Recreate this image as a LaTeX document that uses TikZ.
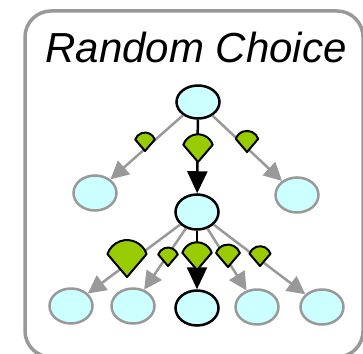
\documentclass[tikz,border=0pt]{standalone}
\usepackage{fontspec}
\setmainfont{Liberation Sans}
\usetikzlibrary{arrows.meta,shapes.geometric}
\definecolor{nodefill}{HTML}{CCFFFF}
\definecolor{edgegray}{HTML}{999999}
\definecolor{probgreen}{HTML}{99CC00}
\begin{document}
\begin{tikzpicture}[x=1pt,y=1pt,
  state/.style={ellipse, draw=edgegray, fill=nodefill, line width=2.5pt,
    minimum width=43pt, minimum height=35pt, inner sep=0pt},
  chosen/.style={state, draw=black},
  option/.style={draw=edgegray, line width=2.5pt, -{Triangle[length=18pt,width=18pt]}},
  taken/.style={draw=black, line width=2.5pt, -{Triangle[length=22pt,width=20pt]}},
  pics/prob/.style={code={
    \filldraw[fill=probgreen, draw=black, line width=2pt, line join=round]
      (0,0) -- (0.7*#1, 0.82*#1)
      arc[start angle=19, end angle=161, radius={0.74*#1pt}] -- cycle;}}
]
\clip (0,0) rectangle (363,-353);

% outer frame
\draw[edgegray, line width=3.5pt, rounded corners=26pt] (25,-11) rectangle (363,-357);

% title
\node[font=\itshape\fontsize{42}{42}\selectfont, anchor=base, inner sep=0pt] (title) at (196,-62) {Random Choice};

% states
\node[chosen, minimum height=33pt] (root) at (198,-102) {};
\node[state] (a1) at (95,-193) {};
\node[chosen] (a2) at (197,-212) {};
\node[state] (a3) at (297,-195) {};
\node[state] (b1) at (71,-306) {};
\node[state] (b2) at (133,-306) {};
\node[chosen] (b3) at (197,-308) {};
\node[state] (b4) at (257,-307) {};
\node[state] (b5) at (322,-307) {};

% transitions
\draw[option] (root) -- (a1);
\draw[option] (root) -- (a3);
\draw[taken] (root) -- (a2);
\draw[option] (a2) -- (b1);
\draw[option] (a2) -- (b2);
\draw[option] (a2) -- (b4);
\draw[option] (a2) -- (b5);
\draw[taken] (a2) -- (b3);

% choice probabilities
\pic (w01) at (145,-151) {prob=14};
\pic (w02) at (198,-162) {prob=21};
\pic (w03) at (247,-152) {prob=16};
\pic (w11) at (127,-277) {prob=28};
\pic (w12) at (168,-266) {prob=14};
\pic (w13) at (197,-270) {prob=21};
\pic (w14) at (228,-267) {prob=17};
\pic (w15) at (260,-266) {prob=15};
\end{tikzpicture}
\end{document}
